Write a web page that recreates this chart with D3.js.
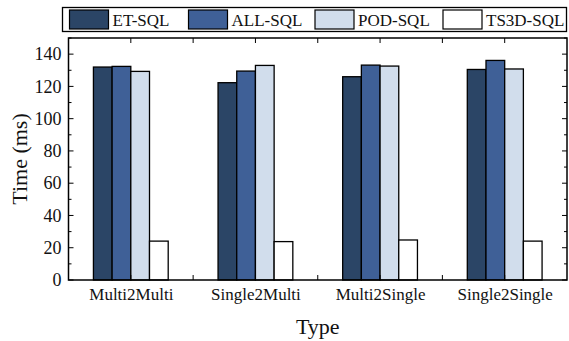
<!DOCTYPE html>
<html><head><meta charset="utf-8">
<script src="https://cdn.jsdelivr.net/npm/d3@7/dist/d3.min.js"></script>
<style>body{margin:0;background:#fff}svg{display:block}text{font-family:"Liberation Serif","Times New Roman",serif !important;fill:#111}</style>
</head><body><svg id="c" width="569" height="341"></svg>
<script>
const categories = ["Multi2Multi","Single2Multi","Multi2Single","Single2Single"];
const seriesNames = ["ET-SQL","ALL-SQL","POD-SQL","TS3D-SQL"];
const etSQL   = [132.0, 122.3, 126.0, 130.5];
const allSQL  = [132.4, 129.5, 133.2, 136.1];
const podSQL  = [129.3, 133.0, 132.6, 130.8];
const ts3dSQL = [24.1, 23.8, 24.8, 24.1];
const yTicks = [0,20,40,60,80,100,120,140];
const colors = ["#2b4566","#3f6097","#d1ddec","#ffffff"];
const series = [etSQL, allSQL, podSQL, ts3dSQL];
const SERIF = "'Liberation Serif', 'Times New Roman', serif";

const svg = d3.select("#c");
const L = 68.5, R = 567, T = 38, B = 280;
const x = d3.scaleLinear().domain([0.5, 4.5]).range([L, R]);
const y = d3.scaleLinear().domain([0, 150]).range([B, T]);
const bw = (x(2)-x(1)) * 0.15;

// bars
categories.forEach((c, i) => {
  series.forEach((s, j) => {
    const x0 = x(i+1) - 2*bw + j*bw;
    svg.append("rect").attr("x", x0).attr("y", y(s[i])).attr("width", bw).attr("height", y(0)-y(s[i]))
      .attr("fill", colors[j]).attr("stroke", "#000").attr("stroke-width", 1.3);
  });
});

// axes
const gl = svg.append("g").attr("transform", `translate(${L},0)`)
  .call(d3.axisLeft(y).tickValues(yTicks).tickSize(0).tickPadding(7).tickFormat(d3.format("d")));
gl.attr("font-family", SERIF);
gl.selectAll("text").style("font-size","18px").style("font-family", SERIF).attr("fill","#111");
gl.select(".domain").remove();
// inward ticks left / right
d3.range(0, 151, 10).forEach(v => {
  const len = v % 20 === 0 ? 5 : 3;
  svg.append("line").attr("x1", L).attr("x2", L+len).attr("y1", y(v)).attr("y2", y(v)).attr("stroke","#000").attr("stroke-width",1);
  svg.append("line").attr("x1", R).attr("x2", R-len).attr("y1", y(v)).attr("y2", y(v)).attr("stroke","#000").attr("stroke-width",1);
});
// x ticks top/bottom inward
d3.range(1, 4.01, 0.5).forEach(v => {
  svg.append("line").attr("x1", x(v)).attr("x2", x(v)).attr("y1", T).attr("y2", T+5).attr("stroke","#000").attr("stroke-width",1);
  svg.append("line").attr("x1", x(v)).attr("x2", x(v)).attr("y1", B).attr("y2", B-5).attr("stroke","#000").attr("stroke-width",1);
});
const gb = svg.append("g").attr("transform", `translate(0,${B})`)
  .call(d3.axisBottom(x).tickValues([1,2,3,4]).tickSize(0).tickPadding(8).tickFormat((d,i)=>categories[i]));
gb.attr("font-family", SERIF);
gb.selectAll("text").style("font-size","17px").style("font-family", SERIF).attr("fill","#111");
gb.select(".domain").remove();

// frame
svg.append("rect").attr("x", L).attr("y", T).attr("width", R-L).attr("height", B-T)
  .attr("fill","none").attr("stroke","#000").attr("stroke-width",1.5);

// titles
svg.append("text").attr("transform", `translate(27,${(T+B)/2}) rotate(-90)`).attr("text-anchor","middle")
  .style("font-size","22px").text("Time (ms)");
svg.append("text").attr("x", (L+R)/2).attr("y", 333.5).attr("text-anchor","middle")
  .style("font-size","22px").text("Type");

// legend
svg.append("rect").attr("x", 62.5).attr("y", 7.5).attr("width", 504).attr("height", 24)
  .attr("fill","#fff").attr("stroke","#000").attr("stroke-width",1.3);
const legX = [69.5, 188.5, 315, 443];
seriesNames.forEach((n, j) => {
  svg.append("rect").attr("x", legX[j]).attr("y", 10).attr("width", 39).attr("height", 19)
    .attr("fill", colors[j]).attr("stroke","#000").attr("stroke-width",1.2);
  svg.append("text").attr("x", legX[j]+43).attr("y", 25.5).style("font-size","17px").text(n);
});
</script></body></html>
